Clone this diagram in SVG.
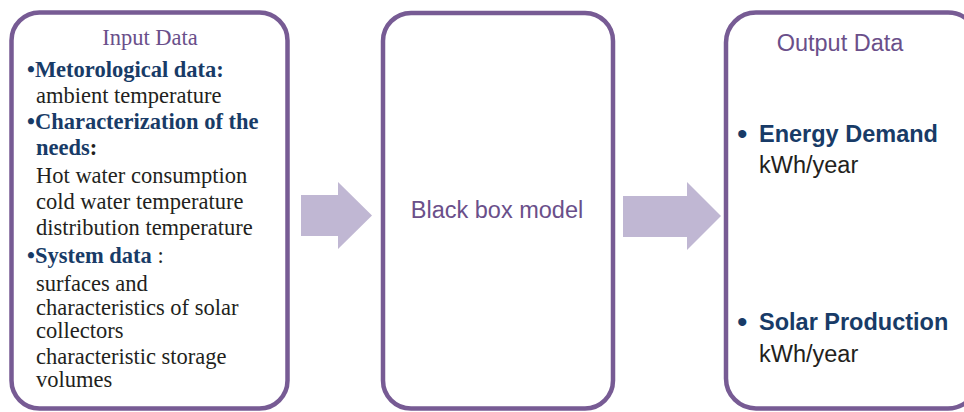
<svg xmlns="http://www.w3.org/2000/svg" width="964" height="412" viewBox="0 0 964 412">
<style>
.box{fill:#fff;stroke:#775B94;stroke-width:4.5}
.arrow{fill:#C0B7D3}
.serif{font-family:"Liberation Serif","Times New Roman",serif;font-size:22.5px;fill:#231F20}
.sb{font-weight:bold;fill:#183B67}
.sans{font-family:"Liberation Sans",Arial,sans-serif;font-size:23.5px;fill:#231F20}
.title{fill:#6A4F8A}
.blue{font-weight:bold;fill:#183B67}
.bul{font-family:"Liberation Sans",Arial,sans-serif;font-size:30px;fill:#183B67}
</style>
<rect width="964" height="412" fill="#fff"/>
<g id="connectors">
<path class="arrow" d="M301,195 H338 V182 L372,215.5 L338,249 V236 H301 Z"/>
<path class="arrow" d="M623,196 H687 V182 L721,216 L687,250 V237 H623 Z"/>
</g>
<g id="input-data">
<rect class="box" x="11.5" y="12.5" width="276" height="396" rx="28"/>
<text class="serif title" x="150" y="45" text-anchor="middle">Input Data</text>
<text class="serif" x="27" y="77"><tspan class="sb">•Metorological data:</tspan></text>
<text class="serif" x="36" y="103">ambient temperature</text>
<text class="serif" x="27" y="129"><tspan class="sb">•Characterization of the</tspan></text>
<text class="serif" x="36" y="155"><tspan class="sb">needs</tspan><tspan font-weight="bold">:</tspan></text>
<text class="serif" x="36" y="183">Hot water consumption</text>
<text class="serif" x="36" y="209">cold water temperature</text>
<text class="serif" x="36" y="235">distribution temperature</text>
<text class="serif" x="27" y="263"><tspan class="sb">•System data</tspan> :</text>
<text class="serif" x="36" y="291">surfaces and</text>
<text class="serif" x="36" y="315">characteristics of solar</text>
<text class="serif" x="36" y="338">collectors</text>
<text class="serif" x="36" y="364">characteristic storage</text>
<text class="serif" x="36" y="387">volumes</text>
</g>
<g id="black-box">
<rect class="box" x="383" y="13" width="230" height="395.5" rx="28"/>
<text class="sans title" x="497" y="218" text-anchor="middle">Black box model</text>
</g>
<g id="output-data">
<rect class="box" x="726" y="12.5" width="252" height="396" rx="30"/>
<text class="sans title" x="840" y="51" text-anchor="middle">Output Data</text>
<text class="bul" x="737" y="144">•</text>
<text class="sans blue" x="759" y="142">Energy Demand</text>
<text class="sans" x="759" y="173">kWh/year</text>
<text class="bul" x="737" y="332">•</text>
<text class="sans blue" x="759" y="330">Solar Production</text>
<text class="sans" x="759" y="362">kWh/year</text>
</g>
</svg>
